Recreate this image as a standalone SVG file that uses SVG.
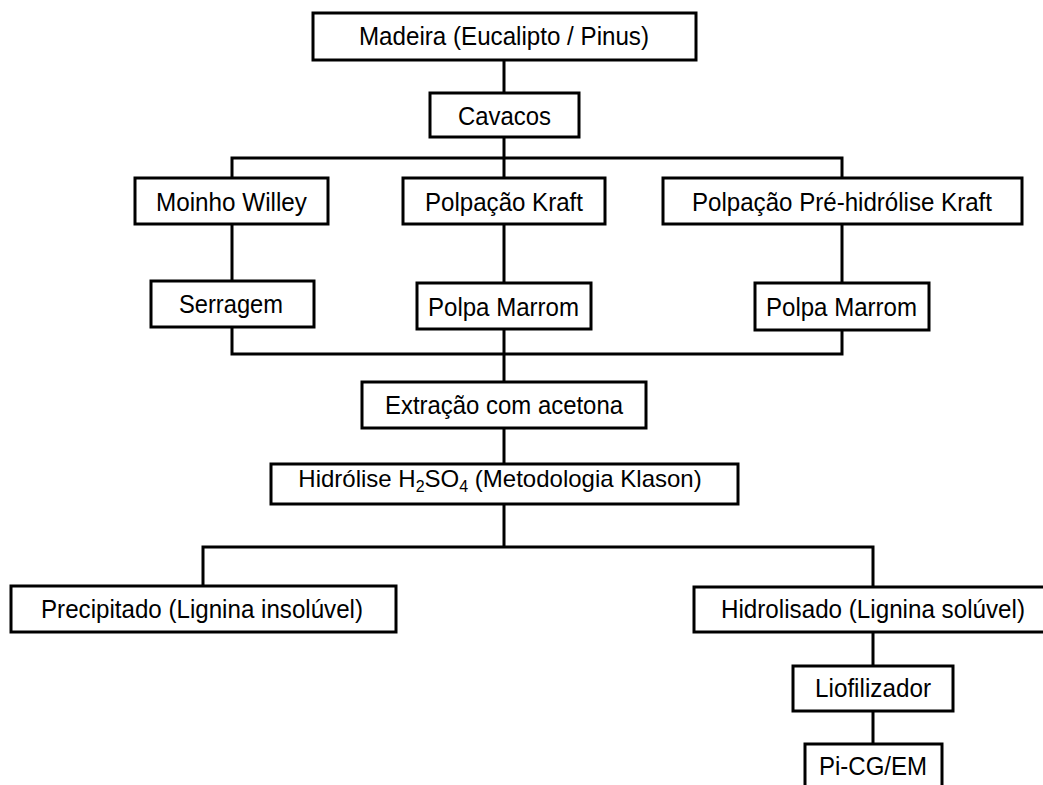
<svg xmlns="http://www.w3.org/2000/svg" width="1043" height="785" viewBox="0 0 1043 785">
<style>
.box{fill:#fff;stroke:#000;stroke-width:3}
.t{font-family:"Liberation Sans",Arial,sans-serif;font-size:25.5px;fill:#000;text-anchor:middle}
.c{fill:none;stroke:#000;stroke-width:3;stroke-linejoin:miter;stroke-linecap:square}
</style>
<rect width="1043" height="785" fill="#fff"/>
<g id="connectors">
<path class="c" d="M504,60V93M504,137V158M232,178V158H842V178M504,158V178"/>
<path class="c" d="M232,224V281M504,224V283M842,224V283"/>
<path class="c" d="M232,327V354H842V330M504,329V382"/>
<path class="c" d="M504,428V465M504,504V547M203,586V547H873V587"/>
<path class="c" d="M873,632V666M873,711V744"/>
</g>
<g id="madeira"><rect class="box" x="313" y="13" width="383" height="47"/><text class="t" x="504" y="45" textLength="290" lengthAdjust="spacingAndGlyphs">Madeira (Eucalipto / Pinus)</text></g>
<g id="cavacos"><rect class="box" x="430" y="93" width="149" height="44"/><text class="t" x="504.5" y="125" textLength="93" lengthAdjust="spacingAndGlyphs">Cavacos</text></g>
<g id="moinho"><rect class="box" x="135" y="178" width="193" height="46"/><text class="t" x="231.5" y="211" textLength="151" lengthAdjust="spacingAndGlyphs">Moinho Willey</text></g>
<g id="kraft"><rect class="box" x="403" y="178" width="202" height="46"/><text class="t" x="504" y="211" textLength="158" lengthAdjust="spacingAndGlyphs">Polpação Kraft</text></g>
<g id="prehidrolise"><rect class="box" x="663" y="178" width="359" height="46"/><text class="t" x="842" y="211" textLength="300" lengthAdjust="spacingAndGlyphs">Polpação Pré-hidrólise Kraft</text></g>
<g id="serragem"><rect class="box" x="151" y="281" width="163" height="46"/><text class="t" x="231" y="313" textLength="104" lengthAdjust="spacingAndGlyphs">Serragem</text></g>
<g id="polpa1"><rect class="box" x="417" y="283" width="174" height="46"/><text class="t" x="503.5" y="316" textLength="151" lengthAdjust="spacingAndGlyphs">Polpa Marrom</text></g>
<g id="polpa2"><rect class="box" x="755" y="283" width="174" height="47"/><text class="t" x="841.5" y="316" textLength="151" lengthAdjust="spacingAndGlyphs">Polpa Marrom</text></g>
<g id="extracao"><rect class="box" x="362" y="382" width="284" height="46"/><text class="t" x="504" y="414" textLength="238" lengthAdjust="spacingAndGlyphs">Extração com acetona</text></g>
<g id="hidrolise"><rect class="box" x="271" y="464" width="467" height="40"/><text class="t" x="500" y="487" style="font-size:24px">Hidrólise H<tspan font-size="16" dy="5">2</tspan><tspan dy="-5">SO</tspan><tspan font-size="16" dy="5">4</tspan><tspan dy="-5"> (Metodologia Klason)</tspan></text></g>
<g id="precipitado"><rect class="box" x="11" y="586" width="385" height="46"/><text class="t" x="202" y="618" textLength="322" lengthAdjust="spacingAndGlyphs">Precipitado (Lignina insolúvel)</text></g>
<g id="hidrolisado"><rect class="box" x="694" y="587" width="360" height="45"/><text class="t" x="873" y="618" textLength="304" lengthAdjust="spacingAndGlyphs">Hidrolisado (Lignina solúvel)</text></g>
<g id="liofilizador"><rect class="box" x="793" y="666" width="160" height="45"/><text class="t" x="873" y="697" textLength="116" lengthAdjust="spacingAndGlyphs">Liofilizador</text></g>
<g id="picgem"><rect class="box" x="805" y="744" width="137" height="60"/><text class="t" x="873" y="775" textLength="108" lengthAdjust="spacingAndGlyphs">Pi-CG/EM</text></g>
</svg>
